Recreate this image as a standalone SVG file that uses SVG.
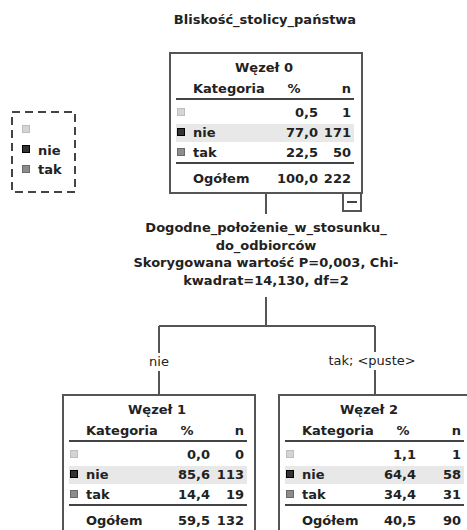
<svg xmlns="http://www.w3.org/2000/svg" width="467" height="530" viewBox="0 0 467 530">
<style>
text{font-family:"DejaVu Sans",Verdana,sans-serif;font-size:13px;font-weight:bold;fill:#222}
.r{text-anchor:end}
.m{text-anchor:middle}
.lbl{font-weight:normal}
.box{fill:#fff;stroke:#555;stroke-width:2}
.rule{stroke:#444;stroke-width:2}
.hl{fill:#e8e8e8}
.c0{fill:#d4d4d4;stroke:#bdbdbd}
.c1{fill:#333;stroke:#000}
.c2{fill:#8c8c8c;stroke:#6a6a6a}
.conn{fill:none;stroke:#555;stroke-width:2}
.leg{fill:none;stroke:#444;stroke-width:2;stroke-dasharray:8 5}
</style>
<rect width="467" height="530" fill="#fff"/>
<text class="m" x="265" y="24">Bliskość_stolicy_państwa</text>

<g id="legend">
<rect class="leg" x="12" y="112" width="63" height="80"/>
<rect class="c0" x="22.5" y="125.5" width="7" height="7"/>
<rect class="c1" x="22.5" y="145.5" width="7" height="7"/>
<text x="38" y="155">nie</text>
<rect class="c2" x="22.5" y="165.5" width="7" height="7"/>
<text x="38" y="174">tak</text>
</g>

<g id="connectors">
<path class="conn" d="M266 193V214M266 297V326M159 326H375M159 326V353M159 371V395M375 326V352M375 370V395"/>
<text class="m lbl" x="159" y="366">nie</text>
<text class="m lbl" x="372" y="365">tak; &lt;puste&gt;</text>
<text class="m" x="266" y="232">Dogodne_położenie_w_stosunku_</text>
<text class="m" x="266" y="250">do_odbiorców</text>
<text class="m" x="266" y="267">Skorygowana wartość P=0,003, Chi-</text>
<text class="m" x="266" y="285">kwadrat=14,130, df=2</text>
</g>

<g id="node0">
<rect class="box" x="170" y="53" width="192" height="140"/>
<text class="m" x="264" y="72">Węzeł 0</text>
<text x="193" y="93">Kategoria</text>
<text class="m" x="294" y="93">%</text>
<text class="r" x="351" y="93">n</text>
<line class="rule" x1="176" y1="99" x2="354" y2="99"/>
<rect class="c0" x="177.5" y="108.5" width="7" height="7"/>
<text class="r" x="318" y="117">0,5</text>
<text class="r" x="351" y="117">1</text>
<rect class="hl" x="176" y="124" width="178" height="18"/>
<rect class="c1" x="177.5" y="128.5" width="7" height="7"/>
<text x="193" y="137">nie</text>
<text class="r" x="318" y="137">77,0</text>
<text class="r" x="351" y="137">171</text>
<rect class="c2" x="177.5" y="148.5" width="7" height="7"/>
<text x="193" y="157">tak</text>
<text class="r" x="318" y="157">22,5</text>
<text class="r" x="351" y="157">50</text>
<line class="rule" x1="176" y1="163" x2="354" y2="163"/>
<text x="193" y="183">Ogółem</text>
<text class="r" x="318" y="183">100,0</text>
<text class="r" x="351" y="183">222</text>
<rect class="box" x="343" y="193" width="18" height="18"/>
<line class="rule" x1="347" y1="202" x2="357" y2="202"/>
</g>

<g id="node1">
<rect class="box" x="63" y="395" width="192" height="150"/>
<text class="m" x="157" y="414">Węzeł 1</text>
<text x="86" y="435">Kategoria</text>
<text class="m" x="187" y="435">%</text>
<text class="r" x="244" y="435">n</text>
<line class="rule" x1="69" y1="441" x2="247" y2="441"/>
<rect class="c0" x="70.5" y="450.5" width="7" height="7"/>
<text class="r" x="210" y="459">0,0</text>
<text class="r" x="244" y="459">0</text>
<rect class="hl" x="69" y="466" width="178" height="18"/>
<rect class="c1" x="70.5" y="470.5" width="7" height="7"/>
<text x="86" y="479">nie</text>
<text class="r" x="210" y="479">85,6</text>
<text class="r" x="244" y="479">113</text>
<rect class="c2" x="70.5" y="490.5" width="7" height="7"/>
<text x="86" y="499">tak</text>
<text class="r" x="210" y="499">14,4</text>
<text class="r" x="244" y="499">19</text>
<line class="rule" x1="69" y1="505" x2="247" y2="505"/>
<text x="86" y="525">Ogółem</text>
<text class="r" x="210" y="525">59,5</text>
<text class="r" x="244" y="525">132</text>
</g>

<g id="node2">
<rect class="box" x="279" y="395" width="192" height="150"/>
<text class="m" x="369" y="414">Węzeł 2</text>
<text x="302" y="435">Kategoria</text>
<text class="m" x="403" y="435">%</text>
<text class="r" x="461" y="435">n</text>
<line class="rule" x1="285" y1="441" x2="464" y2="441"/>
<rect class="c0" x="286.5" y="450.5" width="7" height="7"/>
<text class="r" x="416" y="459">1,1</text>
<text class="r" x="461" y="459">1</text>
<rect class="hl" x="285" y="466" width="179" height="18"/>
<rect class="c1" x="286.5" y="470.5" width="7" height="7"/>
<text x="302" y="479">nie</text>
<text class="r" x="416" y="479">64,4</text>
<text class="r" x="461" y="479">58</text>
<rect class="c2" x="286.5" y="490.5" width="7" height="7"/>
<text x="302" y="499">tak</text>
<text class="r" x="416" y="499">34,4</text>
<text class="r" x="461" y="499">31</text>
<line class="rule" x1="285" y1="505" x2="464" y2="505"/>
<text x="302" y="525">Ogółem</text>
<text class="r" x="416" y="525">40,5</text>
<text class="r" x="461" y="525">90</text>
</g>
</svg>
